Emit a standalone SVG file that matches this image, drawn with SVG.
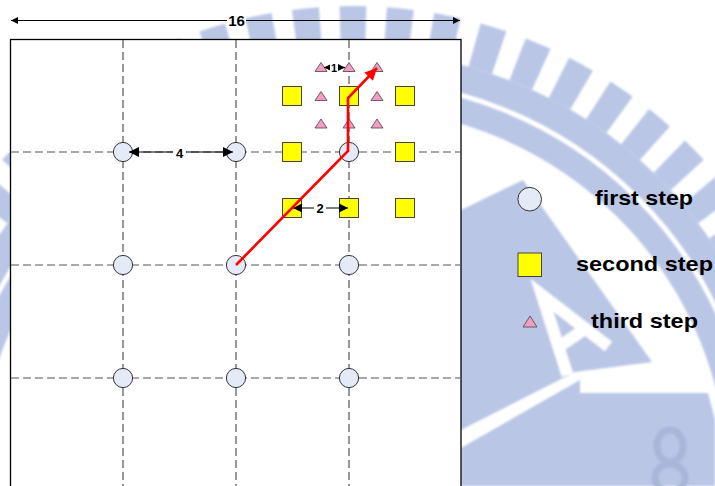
<svg xmlns="http://www.w3.org/2000/svg" width="715" height="486" viewBox="0 0 715 486">
<defs>
<style>
.wm{fill:#b9c6e6}
.wms{fill:none;stroke:#b9c6e6}
.grid{fill:none;stroke:#555;stroke-width:1.2;stroke-dasharray:8 4}
.c1{fill:#e4eaf6;stroke:#333;stroke-width:1}
.sq{fill:#ffff00;stroke:#444;stroke-width:1}
.tri{fill:#f59cc4;stroke:#444;stroke-width:0.8}
.dim{fill:none;stroke:#000;stroke-width:1.2}
.bg{fill:#fff}
.lbl{font-family:"Liberation Sans",Arial,sans-serif;font-weight:bold;text-anchor:middle;fill:#000}
.leg{font-family:"Liberation Sans",Arial,sans-serif;font-weight:bold;font-size:21px;fill:#000}
</style>
<filter id="soft" x="-5%" y="-5%" width="110%" height="110%"><feGaussianBlur stdDeviation="0.8"/></filter>
<marker id="ah16" viewBox="0 0 10 10" refX="10" refY="5" markerWidth="10" markerHeight="7" markerUnits="userSpaceOnUse" orient="auto-start-reverse"><path d="M0,0 L10,5 L0,10 z" fill="#000"/></marker>
<marker id="ah4" viewBox="0 0 10 10" refX="10" refY="5" markerWidth="13" markerHeight="10" markerUnits="userSpaceOnUse" orient="auto-start-reverse"><path d="M0,0 L10,5 L0,10 z" fill="#000"/></marker>
<marker id="ah2" viewBox="0 0 10 10" refX="10" refY="5" markerWidth="11" markerHeight="9" markerUnits="userSpaceOnUse" orient="auto-start-reverse"><path d="M0,0 L10,5 L0,10 z" fill="#000"/></marker>
<marker id="ah1" viewBox="0 0 10 10" refX="10" refY="5" markerWidth="7" markerHeight="7" markerUnits="userSpaceOnUse" orient="auto-start-reverse"><path d="M0,0 L10,5 L0,10 z" fill="#000"/></marker>
<marker id="ahr" viewBox="0 0 10 10" refX="10" refY="5" markerWidth="17" markerHeight="12" markerUnits="userSpaceOnUse" orient="auto"><path d="M0,0 L10,5 L0,10 z" fill="#ff0000"/></marker>
</defs>

<g id="watermark" filter="url(#soft)">
<path class="wms" d="M353,28.5 A454.5,454.5 0 0 1 353,937.5 A454.5,454.5 0 0 1 353,28.5 Z" pathLength="360" stroke-width="45" stroke-dasharray="3.24 2.474" stroke-dashoffset="1.62"/>
<circle class="wms" cx="353" cy="483" r="418.5" stroke-width="27"/>
<circle class="wms" cx="353" cy="483" r="387.5" stroke-width="25"/>
<polygon class="wm" points="523,180 652,362 575,372 461,430 420,230"/>
<path d="M-25,40 L0,-40 L25,40 M-14,12 L14,12" fill="none" stroke="#fff" stroke-width="12" transform="translate(565,328) rotate(-35)"/>
<polygon class="wm" points="461,448 580,380 580,393 708,393 715,420 715,486 461,486"/>
<ellipse cx="670" cy="446" rx="13" ry="16" fill="none" stroke="#a9b6da" stroke-width="7"/>
<ellipse cx="670" cy="478" rx="15" ry="14" fill="none" stroke="#a9b6da" stroke-width="7"/>
</g>

<rect id="frame" x="10.5" y="39.5" width="450.5" height="470" fill="#fff" stroke="#000" stroke-width="1.3"/>

<g id="grid">
<line class="grid" x1="123" y1="40" x2="123" y2="486"/>
<line class="grid" x1="236" y1="40" x2="236" y2="486"/>
<line class="grid" x1="349" y1="40" x2="349" y2="486"/>
<line class="grid" x1="11" y1="152" x2="460" y2="152"/>
<line class="grid" x1="11" y1="265" x2="460" y2="265"/>
<line class="grid" x1="11" y1="378" x2="460" y2="378"/>
</g>

<g id="first-step">
<circle class="c1" cx="123" cy="152" r="9.6"/>
<circle class="c1" cx="236" cy="152" r="9.6"/>
<circle class="c1" cx="349" cy="152" r="9.6"/>
<circle class="c1" cx="123" cy="265" r="9.6"/>
<circle class="c1" cx="236" cy="265" r="9.6"/>
<circle class="c1" cx="349" cy="265" r="9.6"/>
<circle class="c1" cx="123" cy="378" r="9.6"/>
<circle class="c1" cx="236" cy="378" r="9.6"/>
<circle class="c1" cx="349" cy="378" r="9.6"/>
</g>

<g id="second-step">
<rect class="sq" x="282.5" y="86.5" width="19" height="19"/>
<rect class="sq" x="339.5" y="86.5" width="19" height="19"/>
<rect class="sq" x="395.5" y="86.5" width="19" height="19"/>
<rect class="sq" x="282.5" y="142.5" width="19" height="19"/>
<rect class="sq" x="395.5" y="142.5" width="19" height="19"/>
<rect class="sq" x="282.5" y="198.5" width="19" height="19"/>
<rect class="sq" x="339.5" y="198.5" width="19" height="19"/>
<rect class="sq" x="395.5" y="198.5" width="19" height="19"/>
</g>

<g id="third-step">
<polygon class="tri" points="321,62.5 315,71.5 327,71.5"/>
<polygon class="tri" points="349,62.5 343,71.5 355,71.5"/>
<polygon class="tri" points="377,62.5 371,71.5 383,71.5"/>
<polygon class="tri" points="321,91.5 315,100.5 327,100.5"/>
<polygon class="tri" points="377,91.5 371,100.5 383,100.5"/>
<polygon class="tri" points="321,119 315,128 327,128"/>
<polygon class="tri" points="349,119 343,128 355,128"/>
<polygon class="tri" points="377,119 371,128 383,128"/>
</g>

<g id="connectors">
<line class="dim" x1="11" y1="20.5" x2="460" y2="20.5" marker-start="url(#ah16)" marker-end="url(#ah16)"/>
<line class="dim" x1="129" y1="152" x2="233" y2="152" marker-start="url(#ah4)" marker-end="url(#ah4)"/>
<line class="dim" x1="293" y1="208" x2="348" y2="208" marker-start="url(#ah2)" marker-end="url(#ah2)"/>
<line class="dim" x1="324" y1="67.5" x2="345" y2="67.5" marker-start="url(#ah1)" marker-end="url(#ah1)"/>
<polyline points="236,265 348,151 348,98 377,68" fill="none" stroke="#ff0000" stroke-width="2.6" stroke-linejoin="miter" marker-end="url(#ahr)"/>
</g>

<g id="labels">
<rect class="bg" x="227" y="12" width="19" height="16"/>
<text class="lbl" x="236.5" y="26" font-size="15">16</text>
<rect class="bg" x="173" y="145" width="13" height="14"/>
<text class="lbl" x="179.5" y="157.5" font-size="13">4</text>
<rect class="bg" x="314" y="201" width="12" height="14"/>
<text class="lbl" x="320" y="212.5" font-size="13">2</text>
<rect class="bg" x="330" y="62" width="8" height="11"/>
<text class="lbl" x="334" y="71.5" font-size="11">1</text>
</g>

<g id="legend">
<g id="legend-first">
<circle class="c1" cx="529.7" cy="199.2" r="11.8"/>
<text class="leg" x="595" y="205" textLength="98" lengthAdjust="spacingAndGlyphs">first step</text>
</g>
<g id="legend-second">
<rect class="sq" x="518" y="253" width="23.5" height="23.5"/>
<text class="leg" x="576" y="271" textLength="137" lengthAdjust="spacingAndGlyphs">second step</text>
</g>
<g id="legend-third">
<polygon class="tri" points="530,316 523,327 537,327"/>
<text class="leg" x="591" y="327.5" textLength="107" lengthAdjust="spacingAndGlyphs">third step</text>
</g>
</g>
</svg>
